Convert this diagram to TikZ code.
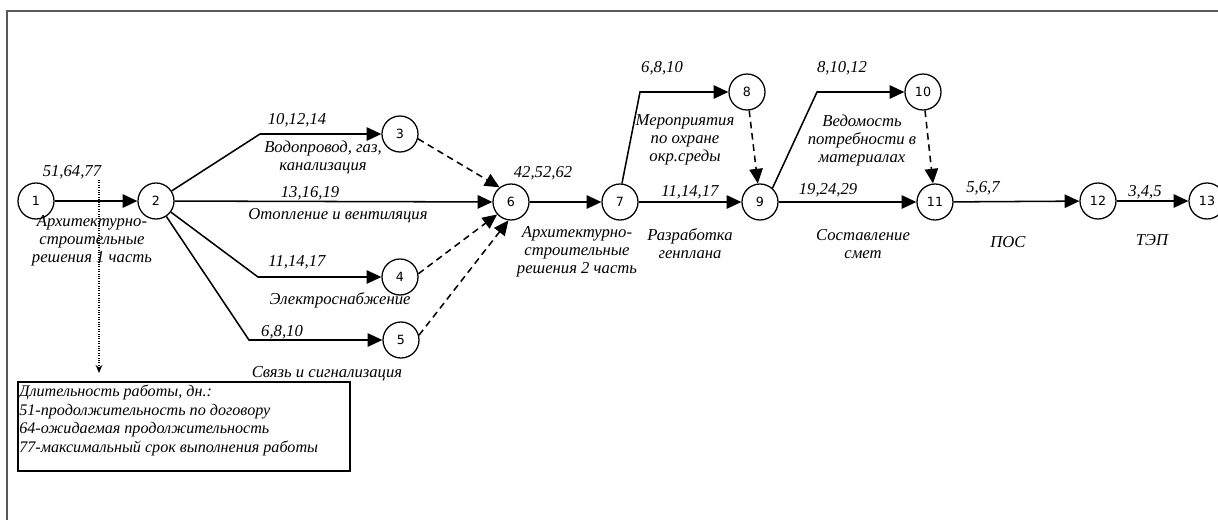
\documentclass[tikz,border=0pt]{standalone}
\usepackage{fontspec}
\setmainfont{Liberation Serif}
\newfontfamily\numfont{DejaVu Sans}
\usetikzlibrary{arrows.meta}
\tikzset{
  ev/.style={circle, draw, line width=0.95pt, minimum size=27pt, inner sep=0pt, font=\numfont\fontsize{9.5}{11}\selectfont, fill=white},
  lbl/.style={inner sep=0pt, align=center, font=\itshape\fontsize{12.5}{13.5}\selectfont},
  leglbl/.style={inner sep=0pt, align=left, font=\itshape\fontsize{12.1}{13.8}\selectfont},
  act/.style={line width=1.15pt, -{Triangle[length=11pt,width=10pt]}},
  dum/.style={line width=1.15pt, dash pattern=on 5pt off 3.5pt, -{Triangle[length=11pt,width=10pt]}},
  frameline/.style={line width=1.6pt, draw=black!65},
}
\begin{document}
\begin{tikzpicture}[x=0.75pt,y=-0.75pt]
\useasboundingbox (0,0) rectangle (1218,519);
% frame
\draw[frameline] (1230,11) -- (7,11) -- (7,530);
% events
\node[ev] (n1) at (36,201) {1};
\node[ev] (n2) at (156,201) {2};
\node[ev] (n3) at (400,134) {3};
\node[ev] (n4) at (400,277) {4};
\node[ev] (n5) at (401,340) {5};
\node[ev] (n6) at (511,202) {6};
\node[ev] (n7) at (620,202) {7};
\node[ev] (n8) at (747,92) {8};
\node[ev] (n9) at (760,202) {9};
\node[ev] (n10) at (923,92) {10};
\node[ev] (n11) at (935,202) {11};
\node[ev] (n12) at (1098,201) {12};
\node[ev] (n13) at (1207,201) {13};
% bends
\coordinate (b3) at (260,134);
\coordinate (b4) at (258,277);
\coordinate (b5) at (249,340);
\coordinate (b8) at (640,92);
\coordinate (b10) at (817,92);
% activities
\draw[act] (n1) -- (n2);
\draw[act] (n2) -- (b3) -- (n3);
\draw[act] (n2) -- (n6);
\draw[act] (n2) -- (b4) -- (n4);
\draw[act] (n2) -- (b5) -- (n5);
\draw[dum] (n3.-15) -- (n6.128);
\draw[dum] (n4.10) -- (n6.222);
\draw[dum] (n5.15) -- (n6.262);
\draw[act] (n6) -- (n7);
\draw[act] (n7.84) -- (b8) -- (n8);
\draw[act] (n7) -- (n9);
\draw[dum] (n8) -- (n9);
\draw[act] (n9.48) -- (b10) -- (n10);
\draw[act] (n9) -- (n11);
\draw[dum] (n10) -- (n11);
\draw[act] (n11) -- (n12);
\draw[act] (n12) -- (n13);
% labels
\node[lbl] (t1) at (72,172) {51,64,77};
\node[lbl] (a1) at (92,241) {Архитектурно-\\строительные\\решения 1 часть};
\node[lbl] (t3) at (297,120) {10,12,14};
\node[lbl] (a3) at (323,157) {Водопровод, газ,\\канализация};
\node[lbl] (t6) at (310,193) {13,16,19};
\node[lbl] (a6) at (338,216) {Отопление и вентиляция};
\node[lbl] (t4) at (297,262) {11,14,17};
\node[lbl] (a4) at (340,300) {Электроснабжение};
\node[lbl] (t5) at (282,332) {6,8,10};
\node[lbl] (a5) at (327,374) {Связь и сигнализация};
\node[lbl] (t7) at (543,173) {42,52,62};
\node[lbl] (a7) at (577,252) {Архитектурно-\\строительные\\решения 2 часть};
\node[lbl] (t8) at (662,68) {6,8,10};
\node[lbl] (a8) at (685,140) {Мероприятия\\по охране\\окр.среды};
\node[lbl] (t9) at (690,192) {11,14,17};
\node[lbl] (a9) at (690,244) {Разработка\\генплана};
\node[lbl] (t10) at (842,68) {8,10,12};
\node[lbl] (a10) at (862,140) {Ведомость\\потребности в\\материалах};
\node[lbl] (t11) at (828,190) {19,24,29};
\node[lbl] (a11) at (863,244) {Составление\\смет};
\node[lbl] (t12) at (983,188) {5,6,7};
\node[lbl] (a12) at (1008,242) {ПОС};
\node[lbl] (t13) at (1145,192) {3,4,5};
\node[lbl] (a13) at (1152,240) {ТЭП};
% legend
\node[draw, line width=1.4pt, anchor=north west, minimum width=249pt, minimum height=66.75pt, inner sep=0pt] (leg) at (17,381) {};
\node[leglbl, anchor=north west] (legtxt) at (19,385) {Длительность работы, дн.:\\51-продолжительность по договору\\64-ожидаемая продолжительность\\77-максимальный срок выполнения работы};
\coordinate (dtop) at (99,180);
\coordinate (dbot) at (99,373);
\draw[densely dotted, line width=0.8pt, -{Stealth[length=6pt,width=5pt]}] (dtop) -- (dbot);
\end{tikzpicture}
\end{document}
